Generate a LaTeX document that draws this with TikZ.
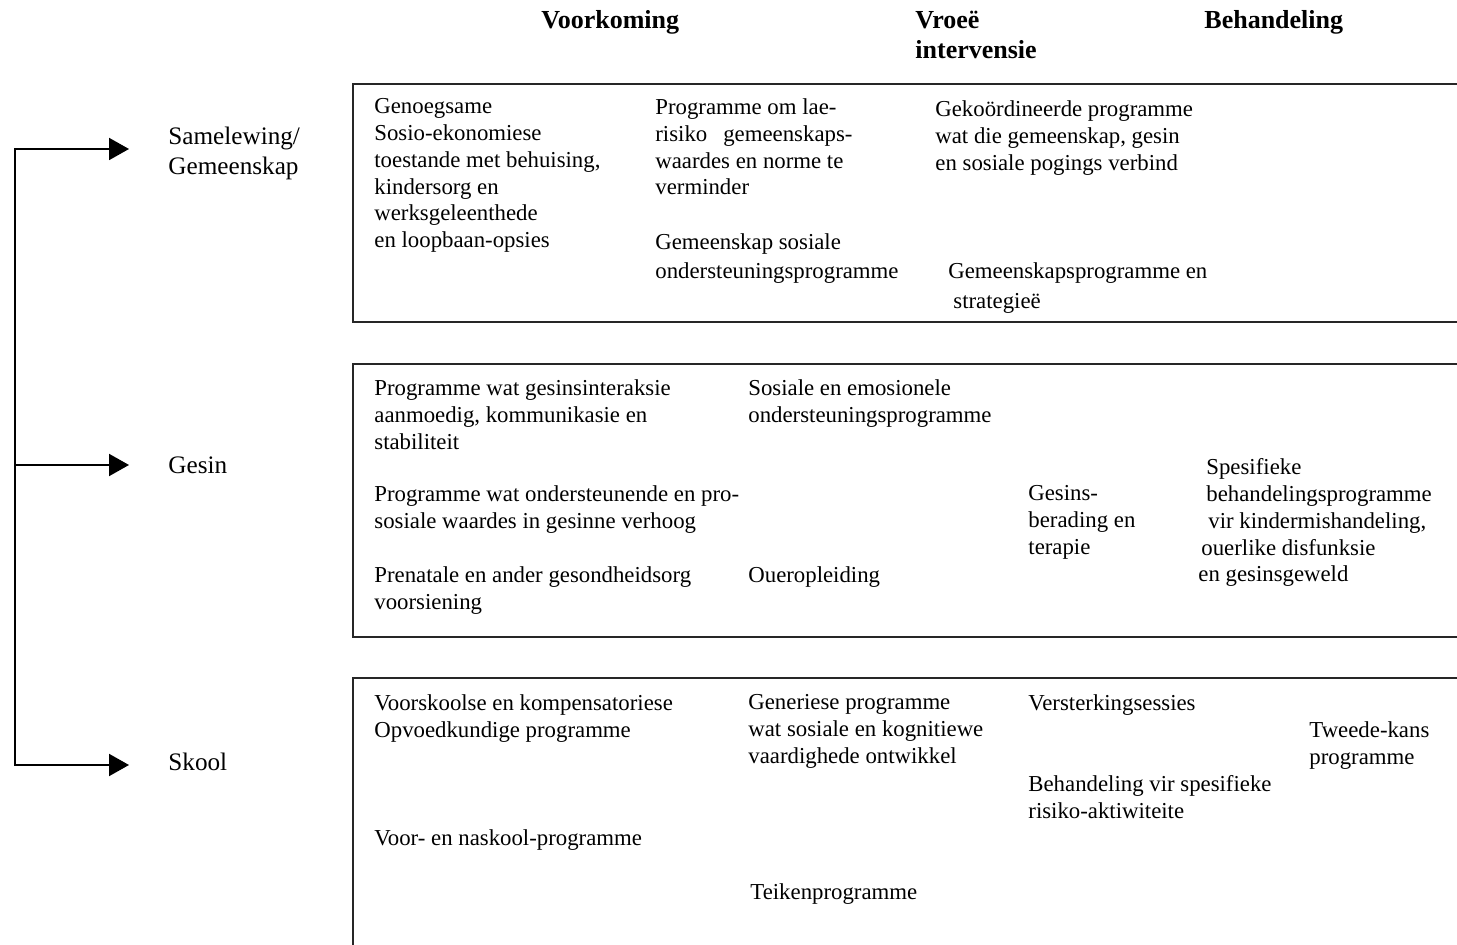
\documentclass[tikz,border=0pt]{standalone}
\usepackage{fontspec}
\setmainfont{Liberation Serif}
\usetikzlibrary{arrows.meta}
\begin{document}
\begin{tikzpicture}[x=0.5pt, y=-0.5pt,
  % each text node is placed by the baseline of its first line
  body/.style={anchor=north west, inner sep=0pt, align=left, yshift=7.38pt,
               execute at begin node=\strut,
               font=\fontsize{11.4}{13.4}\selectfont},
  side/.style={anchor=north west, inner sep=0pt, align=left, yshift=9.5pt,
               execute at begin node=\strut,
               font=\fontsize{12.6}{15}\selectfont},
  hdr/.style={anchor=north west, inner sep=0pt, align=left, yshift=9.5pt,
              execute at begin node=\strut,
              font=\bfseries\fontsize{13}{15}\selectfont},
  frame/.style={draw=black!85, line width=1.2pt, line join=miter},
  feed/.style={draw=black, line width=1pt, line join=miter,
               -{Triangle[length=10pt, width=11pt]}}]

\useasboundingbox (0,0) rectangle (1457,945);

% column headings
\node[hdr] (hPrev) at (541,26) {Voorkoming};
\node[hdr] (hEarly) at (915,30) {Vroeë\\intervensie};
\node[hdr] (hTreat) at (1204,26) {Behandeling};

% the three levels
\node[side] (lvlCom) at (168,146) {Samelewing/\\Gemeenskap};
\node[side] (lvlFam) at (168,471) {Gesin};
\node[side] (lvlSch) at (168,768) {Skool};

% branching arrows on the left
\coordinate (trTop) at (15,149);
\coordinate (trBot) at (15,765);
\coordinate (trMid) at (15,465);
\coordinate (tipCom) at (129,149);
\coordinate (tipFam) at (129,465);
\coordinate (tipSch) at (129,765);
\draw[feed] (trBot) |- (tipCom);
\draw[feed] (trTop) |- (tipSch);
\draw[feed] (trMid) -- (tipFam);

% level frames, open towards the right
\draw[frame] (1460,84) -- (353,84) -- (353,322) -- (1460,322);
\draw[frame] (1460,364) -- (353,364) -- (353,637) -- (1460,637);
\draw[frame] (1460,678) -- (353,678) -- (353,950);

% community level
\node[body] (c1) at (374,113) {Genoegsame\\Sosio-ekonomiese\\toestande met behuising,\\kindersorg en\\werksgeleenthede\\en loopbaan-opsies};
\node[body] (c2) at (655,113) {Programme om lae-\\risiko\hspace{8pt}gemeenskaps-\\waardes en norme te\\verminder};
\node[body] (c3) at (655,248) {Gemeenskap sosiale\\[1pt]ondersteuningsprogramme};
\node[body] (c4) at (935,115) {Gekoördineerde programme\\wat die gemeenskap, gesin\\en sosiale pogings verbind};
\node[body] (c5) at (948,277) {Gemeenskapsprogramme en\\[1.5pt]\hspace{2.5pt}strategieë};

% family level
\node[body] (f1) at (374,394) {Programme wat gesinsinteraksie\\aanmoedig, kommunikasie en\\stabiliteit};
\node[body] (f2) at (374,500) {Programme wat ondersteunende en pro-\\sosiale waardes in gesinne verhoog};
\node[body] (f3) at (374,581) {Prenatale en ander gesondheidsorg\\voorsiening};
\node[body] (f4) at (748,394) {Sosiale en emosionele\\ondersteuningsprogramme};
\node[body] (f5) at (748,578) {Oueropleiding};
\node[body] (f6) at (1028,500) {Gesins-\\berading en\\terapie};
\node[body] (f7) at (1198,473) {\hspace{4pt}Spesifieke\\\hspace{4pt}behandelingsprogramme\\\hspace{5pt}vir kindermishandeling,\\\hspace{1.5pt}ouerlike disfunksie\\en gesinsgeweld};

% school level
\node[body] (s1) at (374,709) {Voorskoolse en kompensatoriese\\Opvoedkundige programme};
\node[body] (s2) at (374,841) {Voor- en naskool-programme};
\node[body] (s3) at (748,709) {Generiese programme\\wat sosiale en kognitiewe\\vaardighede ontwikkel};
\node[body] (s4) at (750,895) {Teikenprogramme};
\node[body] (s5) at (1028,706) {Versterkingsessies};
\node[body] (s6) at (1028,790) {Behandeling vir spesifieke\\risiko-aktiwiteite};
\node[body] (s7) at (1309,736) {Tweede-kans\\programme};

\end{tikzpicture}
\end{document}
